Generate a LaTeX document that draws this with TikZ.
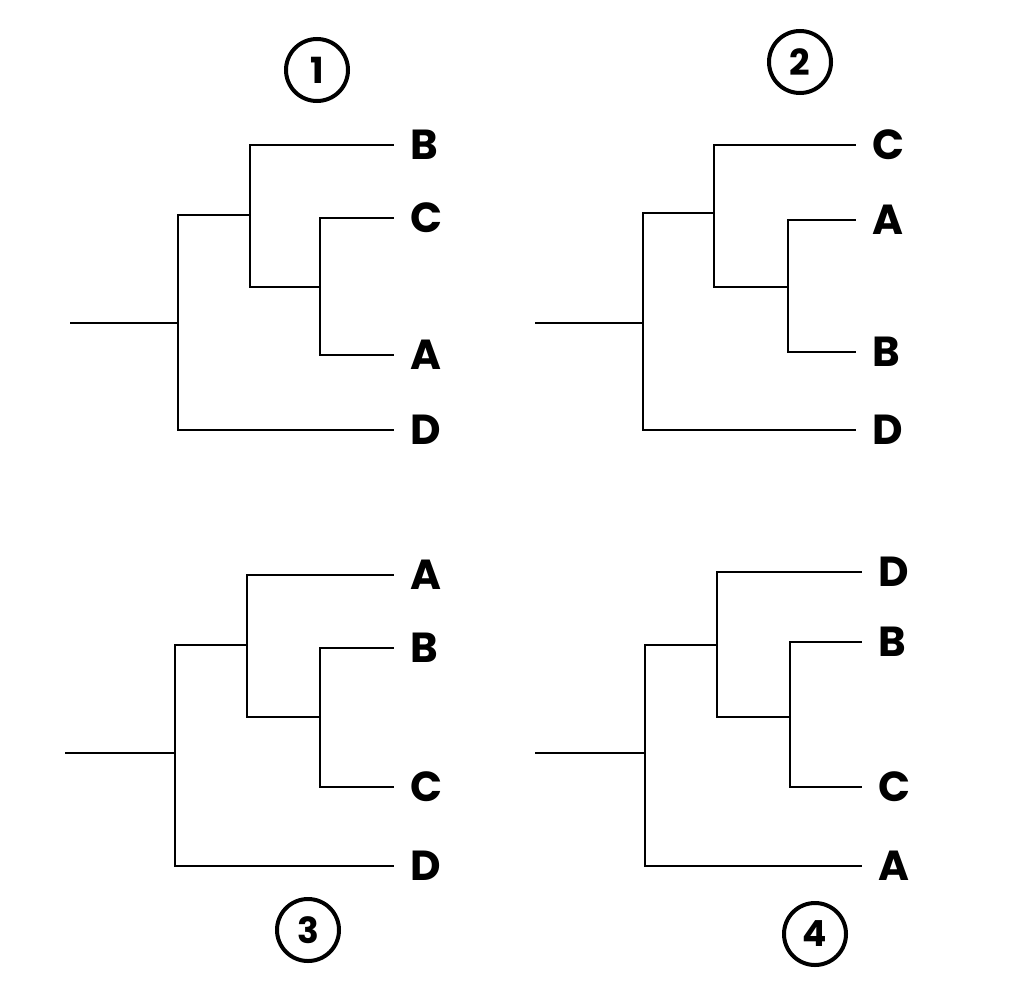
\documentclass[tikz,border=0pt]{standalone}
\usepackage{fontspec}
\setmainfont{Poppins}
\usetikzlibrary{calc}
\tikzstyle{jn}=[coordinate]
\tikzstyle{lf}=[anchor=west, inner sep=0, font=\fontsize{42}{42}\selectfont\bfseries]
\tikzstyle{br}=[line width=2pt, shorten >=16pt]
\tikzstyle{num}=[shape=circle, draw, line width=4pt, minimum size=62pt, inner sep=0, font=\fontsize{36}{36}\selectfont\bfseries]

\begin{document}
\begin{tikzpicture}[x=1pt, y=-1pt]
\useasboundingbox (0,0) rectangle (1024,1001);
% tree 1
\node at (70,323)[jn](o1){};
\node at (178,323)[jn](u1){};
\node at (250,215)[jn](v1){};
\node at (320,287)[jn](w1){};
\node at (410,145)[lf](B1){B};
\node at (410,218)[lf](C1){C};
\node at (410,355)[lf](A1){A};
\node at (410,430)[lf](D1){D};
\node at (317,70)[num](t1){1};
\draw[line width=2pt] (o1)--(u1);
\draw[br, shorten >=0pt] (u1)|-(v1);
\draw[br] (u1)|-(D1.west);
\draw[br] (v1)|-(B1.west);
\draw[br, shorten >=0pt] (v1)|-(w1);
\draw[br] (w1)|-(C1.west);
\draw[br] (w1)|-(A1.west);
% tree 2
\node at (535,323)[jn](o2){};
\node at (643,323)[jn](u2){};
\node at (714,213)[jn](v2){};
\node at (788,287)[jn](w2){};
\node at (872,145)[lf](C2){C};
\node at (872,220)[lf](A2){A};
\node at (872,352)[lf](B2){B};
\node at (872,430)[lf](D2){D};
\node at (800,62)[num](t2){2};
\draw[line width=2pt] (o2)--(u2);
\draw[br, shorten >=0pt] (u2)|-(v2);
\draw[br] (u2)|-(D2.west);
\draw[br] (v2)|-(C2.west);
\draw[br, shorten >=0pt] (v2)|-(w2);
\draw[br] (w2)|-(A2.west);
\draw[br] (w2)|-(B2.west);
% tree 3
\node at (65,753)[jn](o3){};
\node at (175,753)[jn](u3){};
\node at (247,645)[jn](v3){};
\node at (320,717)[jn](w3){};
\node at (410,575)[lf](A3){A};
\node at (410,648)[lf](B3){B};
\node at (410,787)[lf](C3){C};
\node at (410,866)[lf](D3){D};
\node at (308,930)[num](t3){3};
\draw[line width=2pt] (o3)--(u3);
\draw[br, shorten >=0pt] (u3)|-(v3);
\draw[br] (u3)|-(D3.west);
\draw[br] (v3)|-(A3.west);
\draw[br, shorten >=0pt] (v3)|-(w3);
\draw[br] (w3)|-(B3.west);
\draw[br] (w3)|-(C3.west);
% tree 4
\node at (535,753)[jn](o4){};
\node at (645,753)[jn](u4){};
\node at (717,645)[jn](v4){};
\node at (790,717)[jn](w4){};
\node at (878,572)[lf](D4){D};
\node at (878,642)[lf](B4){B};
\node at (878,787)[lf](C4){C};
\node at (878,866)[lf](A4){A};
\node at (815,934)[num](t4){4};
\draw[line width=2pt] (o4)--(u4);
\draw[br, shorten >=0pt] (u4)|-(v4);
\draw[br] (u4)|-(A4.west);
\draw[br] (v4)|-(D4.west);
\draw[br, shorten >=0pt] (v4)|-(w4);
\draw[br] (w4)|-(B4.west);
\draw[br] (w4)|-(C4.west);
\end{tikzpicture}
\end{document}
